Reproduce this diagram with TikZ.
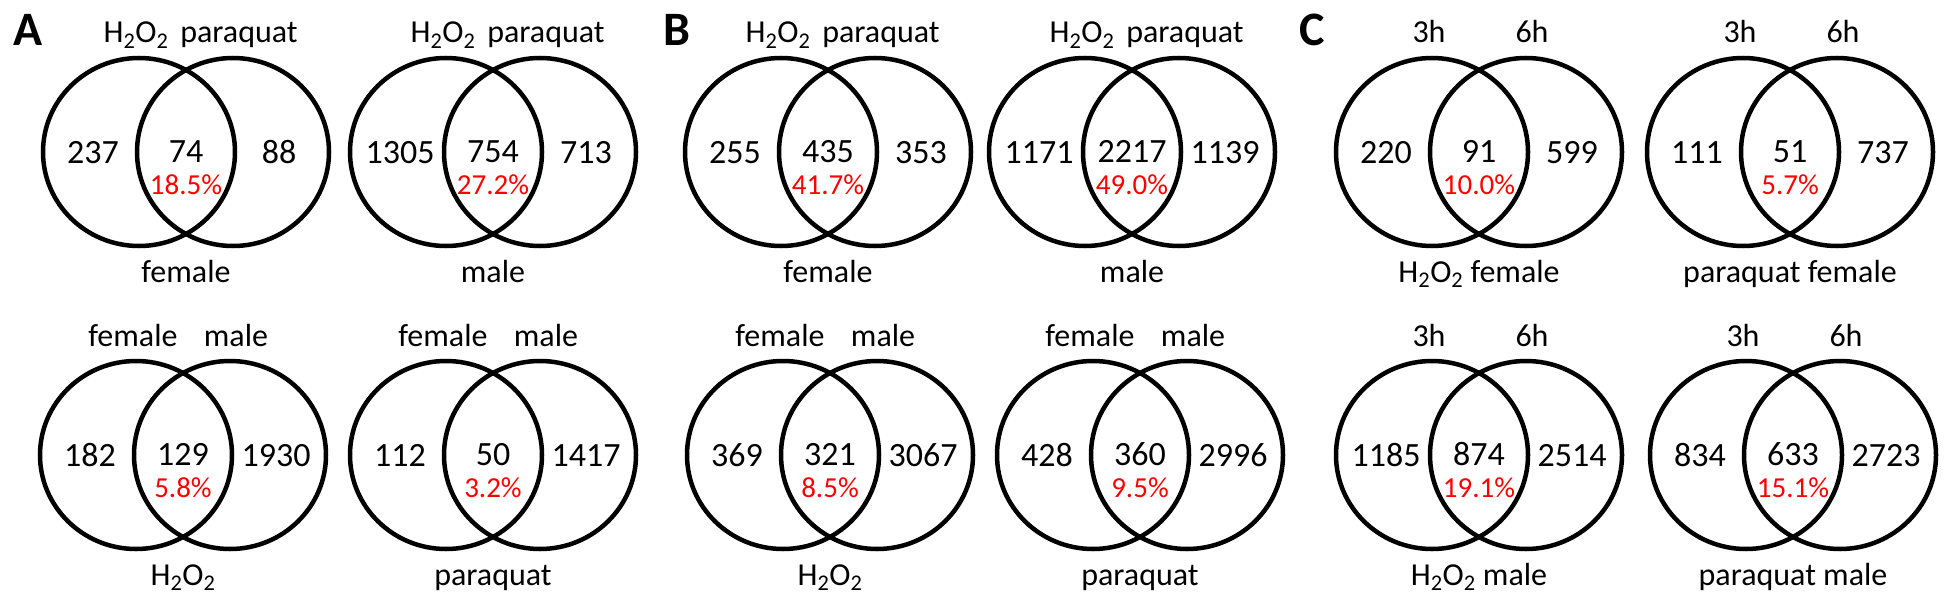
\documentclass[tikz,border=0pt]{standalone}
\usepackage{fontspec}
\setmainfont{Carlito}
\usetikzlibrary{calc}

\newcommand{\hoo}{H\textsubscript{2}O\textsubscript{2}}
% one pair of circles, placed by the crossing point #1
\newcommand{\vennpair}[8]{%
  \draw[ring] ($(#1)+(-47,0)$) ellipse [x radius=96, y radius=94];
  \draw[ring] ($(#1)+(47,0)$) ellipse [x radius=96, y radius=94];
  \node[num] (#1-l) at ($(#1)+(-93,11)$) {#5};
  \node[num] (#1-m) at ($(#1)+(0,10)$) {#6};
  \node[num] (#1-r) at ($(#1)+(93,11)$) {#7};
  \node[pct] (#1-p) at ($(#1)+(0,42)$) {#8};
  \node[lab] (#1-a) at ($(#1)+(-50,-109)$) {#2};
  \node[lab] (#1-b) at ($(#1)+(53,-109)$) {#3};
  \node[lab] (#1-c) at ($(#1)+(0,130)$) {#4};
}

\begin{document}
\begin{tikzpicture}[x=1pt, y=-1pt,
  ring/.style={line width=4.5pt},
  num/.style={anchor=base, inner sep=0pt, font=\fontsize{34}{34}\selectfont},
  lab/.style={num, font=\fontsize{32}{32}\selectfont},
  pct/.style={num, text=red, font=\fontsize{29}{29}\selectfont},
  letter/.style={anchor=base, inner sep=0pt, font=\fontsize{48}{48}\selectfont\bfseries}]
  \useasboundingbox (0,0) rectangle (1946,594);

  % Panel letters
  \node[letter] (la) at (28,46) {A};
  \node[letter] (lb) at (677,46) {B};
  \node[letter] (lc) at (1312,46) {C};

  % Crossing points of the pairs
  \coordinate (a1) at (186,152);
  \coordinate (a2) at (493,152);
  \coordinate (a3) at (183,455);
  \coordinate (a4) at (493,455);
  \coordinate (b1) at (828,152);
  \coordinate (b2) at (1132,152);
  \coordinate (b3) at (830,455);
  \coordinate (b4) at (1140,455);
  \coordinate (c1) at (1479,152);
  \coordinate (c2) at (1790,152);
  \coordinate (c3) at (1479,455);
  \coordinate (c4) at (1793,455);

  % A
  \vennpair{a1}{\hoo}{paraquat}{female}{237}{74}{88}{18.5\%}
  \vennpair{a2}{\hoo}{paraquat}{male}{1305}{754}{713}{27.2\%}
  \vennpair{a3}{female}{male}{\hoo}{182}{129}{1930}{5.8\%}
  \vennpair{a4}{female}{male}{paraquat}{112}{50}{1417}{3.2\%}
  % B
  \vennpair{b1}{\hoo}{paraquat}{female}{255}{435}{353}{41.7\%}
  \vennpair{b2}{\hoo}{paraquat}{male}{1171}{2217}{1139}{49.0\%}
  \vennpair{b3}{female}{male}{\hoo}{369}{321}{3067}{8.5\%}
  \vennpair{b4}{female}{male}{paraquat}{428}{360}{2996}{9.5\%}
  % C
  \vennpair{c1}{3h}{6h}{\hoo{} female}{220}{91}{599}{10.0\%}
  \vennpair{c2}{3h}{6h}{paraquat female}{111}{51}{737}{5.7\%}
  \vennpair{c3}{3h}{6h}{\hoo{} male}{1185}{874}{2514}{19.1\%}
  \vennpair{c4}{3h}{6h}{paraquat male}{834}{633}{2723}{15.1\%}
\end{tikzpicture}
\end{document}
